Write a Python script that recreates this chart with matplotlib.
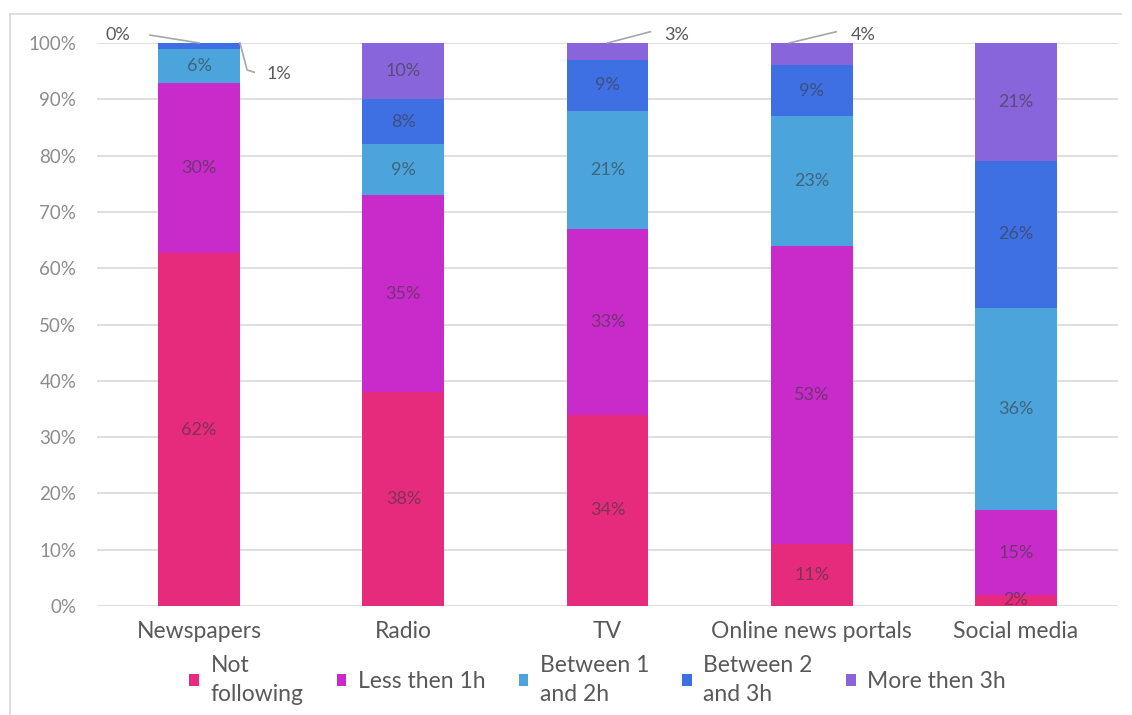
import numpy as np
import matplotlib
matplotlib.use("Agg")
import matplotlib.pyplot as plt
from matplotlib.lines import Line2D
from matplotlib.ticker import PercentFormatter

plt.rcParams['font.family'] = ['Lato', 'DejaVu Sans']

# Share of respondents per medium and daily time spent (labelled percentages)
media = ['Newspapers', 'Radio', 'TV', 'Online news portals', 'Social media']
groups = ['Not\nfollowing', 'Less then 1h', 'Between 1\nand 2h', 'Between 2\nand 3h', 'More then 3h']
not_following = [62, 38, 34, 11, 2]
less_1h = [30, 35, 33, 53, 15]
between_1_2h = [6, 9, 21, 23, 36]
between_2_3h = [1, 8, 9, 9, 26]
more_3h = [0, 10, 3, 4, 21]

colors = ['#E62A7C', '#C82BC9', '#4BA4DC', '#3F70E3', '#8865DA']

values = np.array([not_following, less_1h, between_1_2h, between_2_3h, more_3h], dtype=float)
shares = values / values.sum(axis=0)  # 100% stacked columns

fig = plt.figure(figsize=(11.32, 7.15), dpi=100)
ax = fig.add_axes([0.0857, 0.1524, 0.902, 0.7875])

x = np.arange(len(media))
bottom = np.zeros(len(media))
handles = []
for i, (grp, col) in enumerate(zip(groups, colors)):
    bars = ax.bar(x, shares[i], 0.4, bottom=bottom, color=col, label=grp, zorder=2)
    handles.append(bars)
    bottom += shares[i]

# labels inside the segments, small ones get a leader line
lbl_size = 13
callouts = {(0, 4): (-0.40, 1.014), (0, 3): (0.39, 0.945),
            (2, 4): (2.34, 1.014), (3, 4): (3.25, 1.014)}
for i in range(len(groups)):
    cum = shares[:i].sum(axis=0)
    for j in range(len(media)):
        txt = f"{int(values[i, j])}%"
        if (j, i) in callouts:
            tx, ty = callouts[(j, i)]
            top = cum[j] + shares[i, j]
            if (j, i) == (0, 3):
                ax.plot([x[j] + 0.2, x[j] + 0.235, x[j] + 0.27], [top, 0.952, 0.948],
                        color='#a6a6a6', lw=1.2, clip_on=False, zorder=3)
            else:
                x0 = x[j] if j != 3 else x[j] - 0.11
                x1 = tx - 0.13 if tx > x[j] else tx + 0.16
                ax.plot([x0, x1], [top, 1.02 if tx > x[j] else 1.014],
                        color='#a6a6a6', lw=1.2, clip_on=False, zorder=3)
            ax.text(tx, ty, txt, ha='center', va='center', fontsize=lbl_size,
                    color='#595959', clip_on=False)
        else:
            ax.text(x[j], cum[j] + shares[i, j] / 2, txt, ha='center', va='center',
                    fontsize=lbl_size, color='#3a3a3a', alpha=0.6, zorder=4)

ax.set_xlim(-0.5, 4.5)
ax.set_ylim(0, 1)
ax.set_yticks(np.arange(0, 1.01, 0.1))
ax.yaxis.set_major_formatter(PercentFormatter(1.0, decimals=0))
ax.set_xticks(x)
ax.set_xticklabels(media, fontsize=16.5, color='#595959')
ax.tick_params(axis='y', labelsize=13.5, labelcolor='#8c8c8c', length=0, pad=15)
ax.tick_params(axis='x', length=0, pad=11)
ax.grid(axis='y', color='#d9d9d9', lw=1.2, zorder=0)
for s in ax.spines.values():
    s.set_visible(False)

leg = fig.legend(handles=handles, labels=groups, loc='center', bbox_to_anchor=(0.528, 0.049),
                 ncol=5, frameon=False, fontsize=16.5, handlelength=0.42, handleheight=0.42,
                 handletextpad=0.5, columnspacing=1.45, labelcolor='#595959')
for t in leg.get_texts():
    t.set_linespacing(1.45)

# thin outer frame
fig.add_artist(Line2D([0.009, 0.009], [0.0, 0.981], color='#d9d9d9', lw=1.2))
fig.add_artist(Line2D([0.009, 0.99], [0.981, 0.981], color='#d9d9d9', lw=1.2))

fig.savefig('out.png', dpi=100)
